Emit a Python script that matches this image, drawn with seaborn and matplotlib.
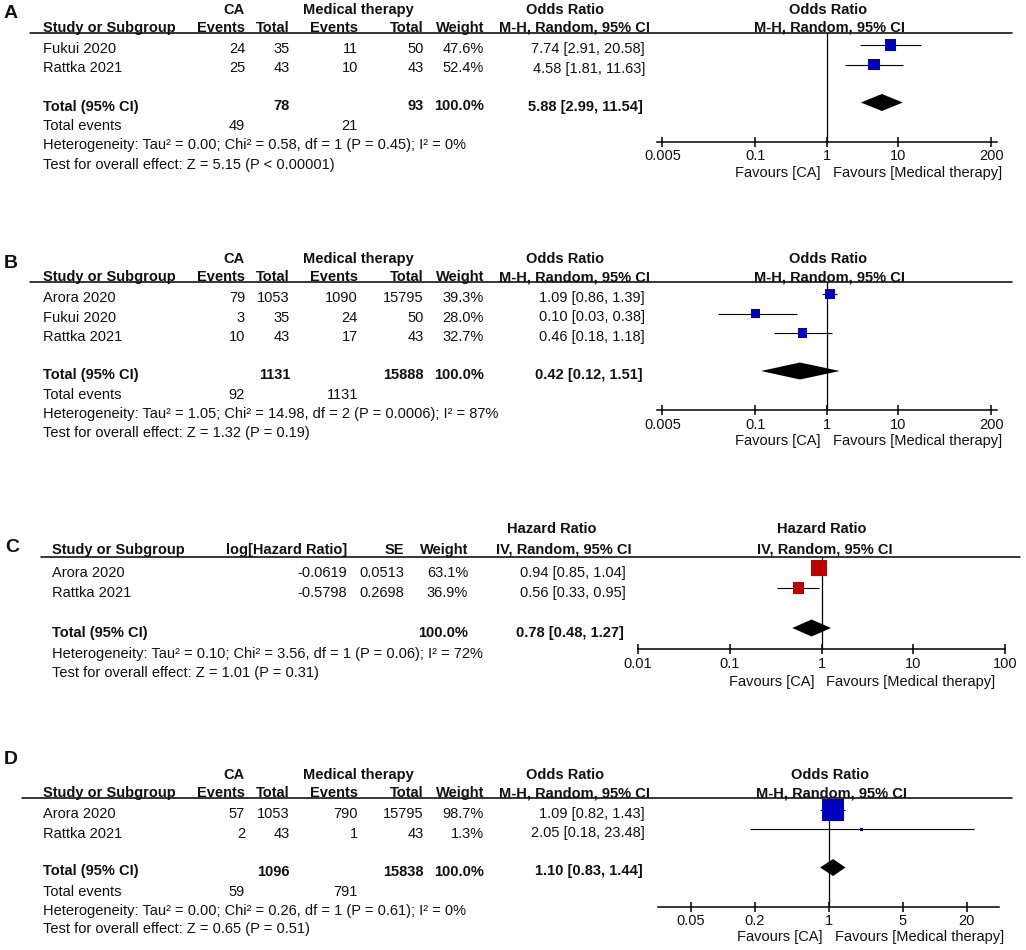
import numpy as np
import matplotlib
matplotlib.use("Agg")
import matplotlib.pyplot as plt
import seaborn as sns

# ---------------- data ----------------
# panel A
a_study = ["Fukui 2020", "Rattka 2021"]
a_ca_events = [24, 25]
a_ca_total = [35, 43]
a_mt_events = [11, 10]
a_mt_total = [50, 43]
a_weight = [47.6, 52.4]
a_or = [7.74, 4.58]
a_lo = [2.91, 1.81]
a_hi = [20.58, 11.63]
a_pooled = [5.88, 2.99, 11.54]
a_sum_total = [78, 93]
a_sum_events = [49, 21]
a_het = "Heterogeneity: Tau² = 0.00; Chi² = 0.58, df = 1 (P = 0.45); I² = 0%"
a_test = "Test for overall effect: Z = 5.15 (P < 0.00001)"
a_ticks = [0.005, 0.1, 1, 10, 200]

# panel B
b_study = ["Arora 2020", "Fukui 2020", "Rattka 2021"]
b_ca_events = [79, 3, 10]
b_ca_total = [1053, 35, 43]
b_mt_events = [1090, 24, 17]
b_mt_total = [15795, 50, 43]
b_weight = [39.3, 28.0, 32.7]
b_or = [1.09, 0.10, 0.46]
b_lo = [0.86, 0.03, 0.18]
b_hi = [1.39, 0.38, 1.18]
b_pooled = [0.42, 0.12, 1.51]
b_sum_total = [1131, 15888]
b_sum_events = [92, 1131]
b_het = "Heterogeneity: Tau² = 1.05; Chi² = 14.98, df = 2 (P = 0.0006); I² = 87%"
b_test = "Test for overall effect: Z = 1.32 (P = 0.19)"
b_ticks = [0.005, 0.1, 1, 10, 200]

# panel C (hazard ratio)
c_study = ["Arora 2020", "Rattka 2021"]
c_loghr = [-0.0619, -0.5798]
c_se = [0.0513, 0.2698]
c_weight = [63.1, 36.9]
c_hr = [0.94, 0.56]
c_lo = [0.85, 0.33]
c_hi = [1.04, 0.95]
c_pooled = [0.78, 0.48, 1.27]
c_het = "Heterogeneity: Tau² = 0.10; Chi² = 3.56, df = 1 (P = 0.06); I² = 72%"
c_test = "Test for overall effect: Z = 1.01 (P = 0.31)"
c_ticks = [0.01, 0.1, 1, 10, 100]

# panel D
d_study = ["Arora 2020", "Rattka 2021"]
d_ca_events = [57, 2]
d_ca_total = [1053, 43]
d_mt_events = [790, 1]
d_mt_total = [15795, 43]
d_weight = [98.7, 1.3]
d_or = [1.09, 2.05]
d_lo = [0.82, 0.18]
d_hi = [1.43, 23.48]
d_pooled = [1.10, 0.83, 1.44]
d_sum_total = [1096, 15838]
d_sum_events = [59, 791]
d_het = "Heterogeneity: Tau² = 0.00; Chi² = 0.26, df = 1 (P = 0.61); I² = 0%"
d_test = "Test for overall effect: Z = 0.65 (P = 0.51)"
d_ticks = [0.05, 0.2, 1, 5, 20]

# ---------------- style ----------------
sns.set_theme(style="ticks")
plt.rcParams["font.family"] = ["Liberation Sans", "DejaVu Sans"]
TXT = "#111111"
BLUE = "#0000BF"
RED = "#C00000"
FS = 10.5

W, H = 1026, 950
fig = plt.figure(figsize=(W / 100, H / 100), dpi=100)


def put(x, y, s, ha="left", bold=False, size=FS):
    fig.text(x / W, 1 - y / H, s, ha=ha, va="center", fontsize=size,
             fontweight="bold" if bold else "normal", color=TXT)


def hline(x0, x1, y):
    fig.add_artist(plt.Line2D([x0 / W, x1 / W], [1 - y / H, 1 - y / H],
                              color="black", lw=1.1, transform=fig.transFigure))


def forest(x0, x1, ytop, ybot, xlim, ticks, est, lo, hi, wt, rows,
           pooled, ypool, color, k):
    ax = fig.add_axes([x0 / W, 1 - ybot / H, (x1 - x0) / W, (ybot - ytop) / H])
    ax.patch.set_alpha(0)
    ax.set_xscale("log")
    ax.set_xlim(*xlim)
    ax.set_ylim(ybot, ytop)
    ax.axvline(1, color="black", lw=0.9, zorder=1)
    ax.hlines(rows, lo, hi, color="black", lw=0.8, zorder=2)
    sizes = [(k * np.sqrt(v) * 0.72) ** 2 for v in wt]
    sns.scatterplot(x=est, y=rows, s=sizes, marker="s", color=color,
                    linewidth=0, ax=ax, zorder=3, legend=False, clip_on=False)
    e, l, h = pooled
    ax.fill([l, e, h, e], [ypool, ypool - 8.5, ypool, ypool + 8.5],
            color="black", lw=0, zorder=3)
    for sp in ["top", "left", "right"]:
        ax.spines[sp].set_visible(False)
    ax.spines["bottom"].set_linewidth(1.1)
    ax.spines["bottom"].set_color("black")
    ax.set_yticks([])
    ax.xaxis.set_minor_locator(matplotlib.ticker.NullLocator())
    ax.set_xticks(ticks)
    ax.set_xticklabels([f"{t:g}" for t in ticks])
    ax.tick_params(axis="x", which="major", direction="inout", length=7,
                   width=1.1, labelsize=FS, pad=2, colors="black",
                   labelcolor=TXT, bottom=True)
    ax.set_xlabel("")
    ax.set_ylabel("")
    # pixel x of the line of no effect
    lg = np.log10(xlim)
    return x0 + (x1 - x0) * (0 - lg[0]) / (lg[1] - lg[0])


def or_panel(letter, ly, y0, line_x0, study, ca_e, ca_t, mt_e, mt_t, wt,
             est, lo, hi, pooled, sum_t, sum_e, het, test, ticks, ax_x,
             xlim, k):
    put(11, ly, letter, ha="center", bold=True, size=14)
    put(234, y0, "CA", ha="center", bold=True)
    put(358, y0, "Medical therapy", ha="center", bold=True)
    put(565, y0, "Odds Ratio", ha="center", bold=True)
    yh = y0 + 18
    put(43, yh, "Study or Subgroup", bold=True)
    rights = [245, 290, 358, 424, 484]
    for x, s in zip(rights, ["Events", "Total", "Events", "Total", "Weight"]):
        put(x, yh, s, ha="right", bold=True)
    put(650, yh, "M-H, Random, 95% CI", ha="right", bold=True)
    yl = y0 + 23
    hline(line_x0, 1012, yl)
    rows = [y0 + 39 + 19.5 * i for i in range(len(study))]
    for i, y in enumerate(rows):
        put(43, y, study[i])
        for x, v in zip(rights[:4], [ca_e[i], ca_t[i], mt_e[i], mt_t[i]]):
            put(x, y, str(v), ha="right")
        put(484, y, f"{wt[i]:.1f}%", ha="right")
        put(645, y, f"{est[i]:.2f} [{lo[i]:.2f}, {hi[i]:.2f}]", ha="right")
    yt = rows[-1] + 38
    put(43, yt, "Total (95% CI)", bold=True)
    put(290, yt, str(sum_t[0]), ha="right", bold=True)
    put(424, yt, str(sum_t[1]), ha="right", bold=True)
    put(484, yt, "100.0%", ha="right", bold=True)
    put(643, yt, f"{pooled[0]:.2f} [{pooled[1]:.2f}, {pooled[2]:.2f}]",
        ha="right", bold=True)
    put(43, yt + 20, "Total events")
    put(245, yt + 20, str(sum_e[0]), ha="right")
    put(358, yt + 20, str(sum_e[1]), ha="right")
    put(43, yt + 39, het)
    put(43, yt + 58, test)
    yax = yt + 35
    mk = [y - 4 for y in rows]
    px1 = forest(ax_x[0], ax_x[1], yl, yax, xlim, ticks, est, lo, hi, wt,
                 mk, pooled, yt - 4, BLUE, k)
    put(px1 + 1, y0, "Odds Ratio", ha="center", bold=True)
    put(px1 + 3, yh, "M-H, Random, 95% CI", ha="center", bold=True)
    put(px1 - 6, yax + 31, "Favours [CA]", ha="right")
    put(px1 + 6, yax + 31, "Favours [Medical therapy]")


or_panel("A", 13, 10, 30, a_study, a_ca_events, a_ca_total, a_mt_events,
         a_mt_total, a_weight, a_or, a_lo, a_hi, a_pooled, a_sum_total,
         a_sum_events, a_het, a_test, a_ticks, (657, 997), (0.0042, 240), 1.6)

or_panel("B", 263, 259, 30, b_study, b_ca_events, b_ca_total, b_mt_events,
         b_mt_total, b_weight, b_or, b_lo, b_hi, b_pooled, b_sum_total,
         b_sum_events, b_het, b_test, b_ticks, (657, 997), (0.0042, 240), 1.6)

or_panel("D", 760, 775, 22, d_study, d_ca_events, d_ca_total, d_mt_events,
         d_mt_total, d_weight, d_or, d_lo, d_hi, d_pooled, d_sum_total,
         d_sum_events, d_het, d_test, d_ticks, (658, 999), (0.0245, 40.5), 2.2)

# ---------------- panel C ----------------
put(12, 548, "C", ha="center", bold=True, size=14)
put(552, 529, "Hazard Ratio", ha="center", bold=True)
put(52, 550, "Study or Subgroup", bold=True)
put(347, 550, "log[Hazard Ratio]", ha="right", bold=True)
put(404, 550, "SE", ha="right", bold=True)
put(468, 550, "Weight", ha="right", bold=True)
put(632, 550, "IV, Random, 95% CI", ha="right", bold=True)
hline(41, 1020, 557)
c_rows = [573, 593]
for i, y in enumerate(c_rows):
    put(52, y, c_study[i])
    put(347, y, f"{c_loghr[i]:.4f}", ha="right")
    put(404, y, f"{c_se[i]:.4f}", ha="right")
    put(468, y, f"{c_weight[i]:.1f}%", ha="right")
    put(626, y, f"{c_hr[i]:.2f} [{c_lo[i]:.2f}, {c_hi[i]:.2f}]", ha="right")
put(52, 633, "Total (95% CI)", bold=True)
put(468, 633, "100.0%", ha="right", bold=True)
put(624, 633, f"{c_pooled[0]:.2f} [{c_pooled[1]:.2f}, {c_pooled[2]:.2f}]",
    ha="right", bold=True)
put(52, 654, c_het)
put(52, 673, c_test)
px1 = forest(638, 1005, 557, 649, (0.01, 100), c_ticks, c_hr, c_lo, c_hi,
             c_weight, [y - 5 for y in c_rows], c_pooled, 628, RED, 1.9)
put(px1, 529, "Hazard Ratio", ha="center", bold=True)
put(px1 + 3, 550, "IV, Random, 95% CI", ha="center", bold=True)
put(px1 - 7, 682, "Favours [CA]", ha="right")
put(px1 + 5, 682, "Favours [Medical therapy]")

fig.savefig("out.png", dpi=100, facecolor="white")
